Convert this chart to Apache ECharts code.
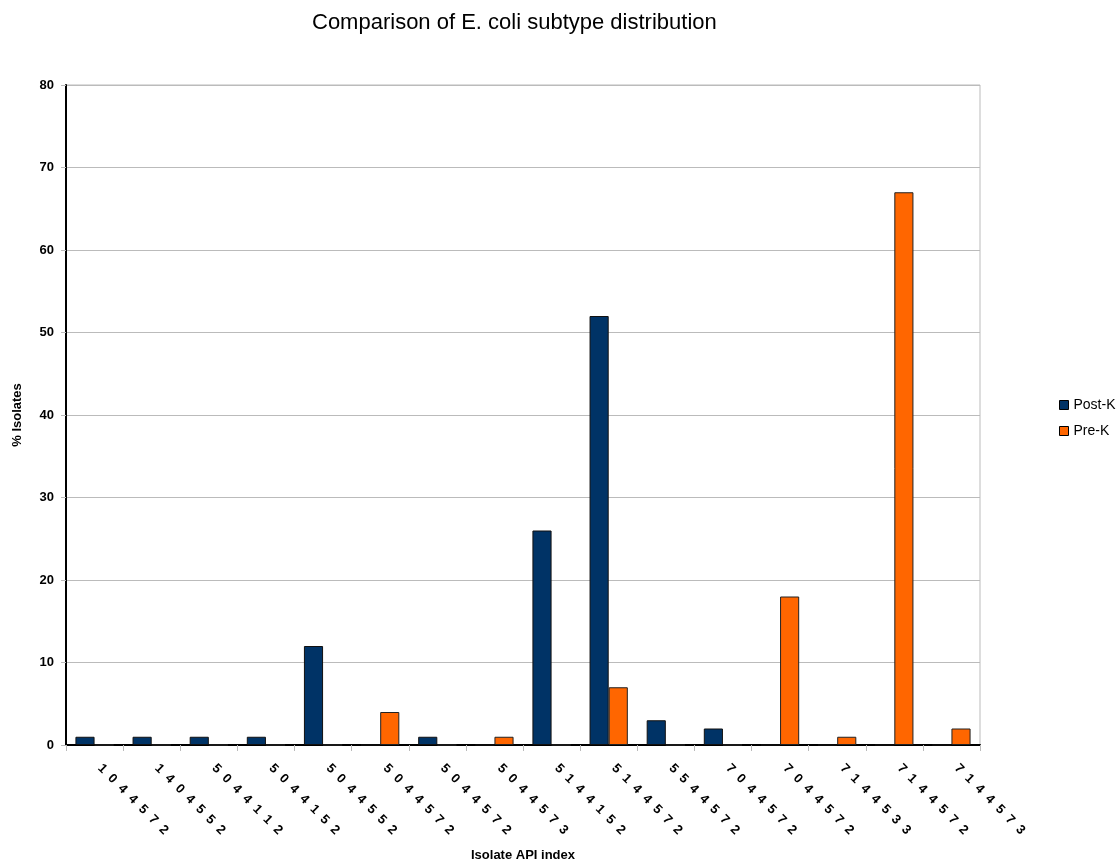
<!DOCTYPE html>
<html><head><meta charset="utf-8">
<script src="https://cdn.jsdelivr.net/npm/echarts@6/dist/echarts.min.js"></script>
<style>html,body{margin:0;padding:0;background:#fff}#c{width:1117px;height:863px}</style>
</head><body><div id="c"></div>
<script>
const categories = ['1044572','1404552','5044112','5044152','5044552','5044572','5044572','5044573','5144152','5144572','5544572','7044572','7044572','7144533','7144572','7144573'];
const postK = [1,1,1,1,12,0,1,0,26,52,3,2,0,0,0,0];
const preK  = [0,0,0,0,0,4,0,1,0,7,0,0,18,1,67,2];
const yTicks = [0,10,20,30,40,50,60,70,80];

const chart = echarts.init(document.getElementById('c'));
const F = 'Liberation Sans, Arial, sans-serif';
chart.setOption({
  animation:false,
  title:{text:'Comparison of E. coli subtype distribution',left:307,top:7,
    textStyle:{fontFamily:F,fontSize:22,fontWeight:'normal',color:'#000'}},
  legend:{orient:'vertical',left:1054,top:393,itemWidth:9,itemHeight:9,itemGap:12,icon:'rect',
    textStyle:{fontFamily:F,fontSize:14,color:'#000'},
    data:[{name:'Post-K',itemStyle:{borderColor:'#000',borderWidth:1}},{name:'Pre-K',itemStyle:{borderColor:'#000',borderWidth:1}}]},
  grid:{left:66,right:137,top:85,bottom:118,show:true,borderColor:'#bbb',borderWidth:1,outerBoundsMode:'none',containLabel:false},
  xAxis:{type:'category',data:categories,
    name:'Isolate API index',nameLocation:'middle',nameGap:104,
    nameTextStyle:{fontFamily:F,fontSize:13,fontWeight:'bold',color:'#000'},
    axisLine:{lineStyle:{color:'#000',width:2}},
    axisTick:{show:true,length:6,lineStyle:{color:'#bbb'}},
    axisLabel:{rotate:-45,margin:16,fontFamily:F,fontSize:13,fontWeight:'bold',color:'#000',
      formatter:v=>'  '+v.split('').join('  ')}},
  yAxis:{type:'value',min:0,max:80,interval:10,
    name:'% Isolates',nameLocation:'middle',nameGap:42,
    nameTextStyle:{fontFamily:F,fontSize:13,fontWeight:'bold',color:'#000'},
    axisLine:{show:true,lineStyle:{color:'#000',width:2}},
    axisTick:{show:true,length:5,lineStyle:{color:'#bbb'}},
    axisLabel:{fontFamily:F,fontSize:13,fontWeight:'bold',color:'#000',margin:12,
      formatter:v=>yTicks.includes(v)?String(v):''},
    splitLine:{lineStyle:{color:'#bbb'}}},
  series:[
    {name:'Post-K',type:'bar',data:postK,barGap:'0%',barCategoryGap:'33%',
      itemStyle:{color:'#003366',borderColor:'#111',borderWidth:1}},
    {name:'Pre-K',type:'bar',data:preK,
      itemStyle:{color:'#ff6600',borderColor:'#222',borderWidth:1}}
  ]
});
</script></body></html>
